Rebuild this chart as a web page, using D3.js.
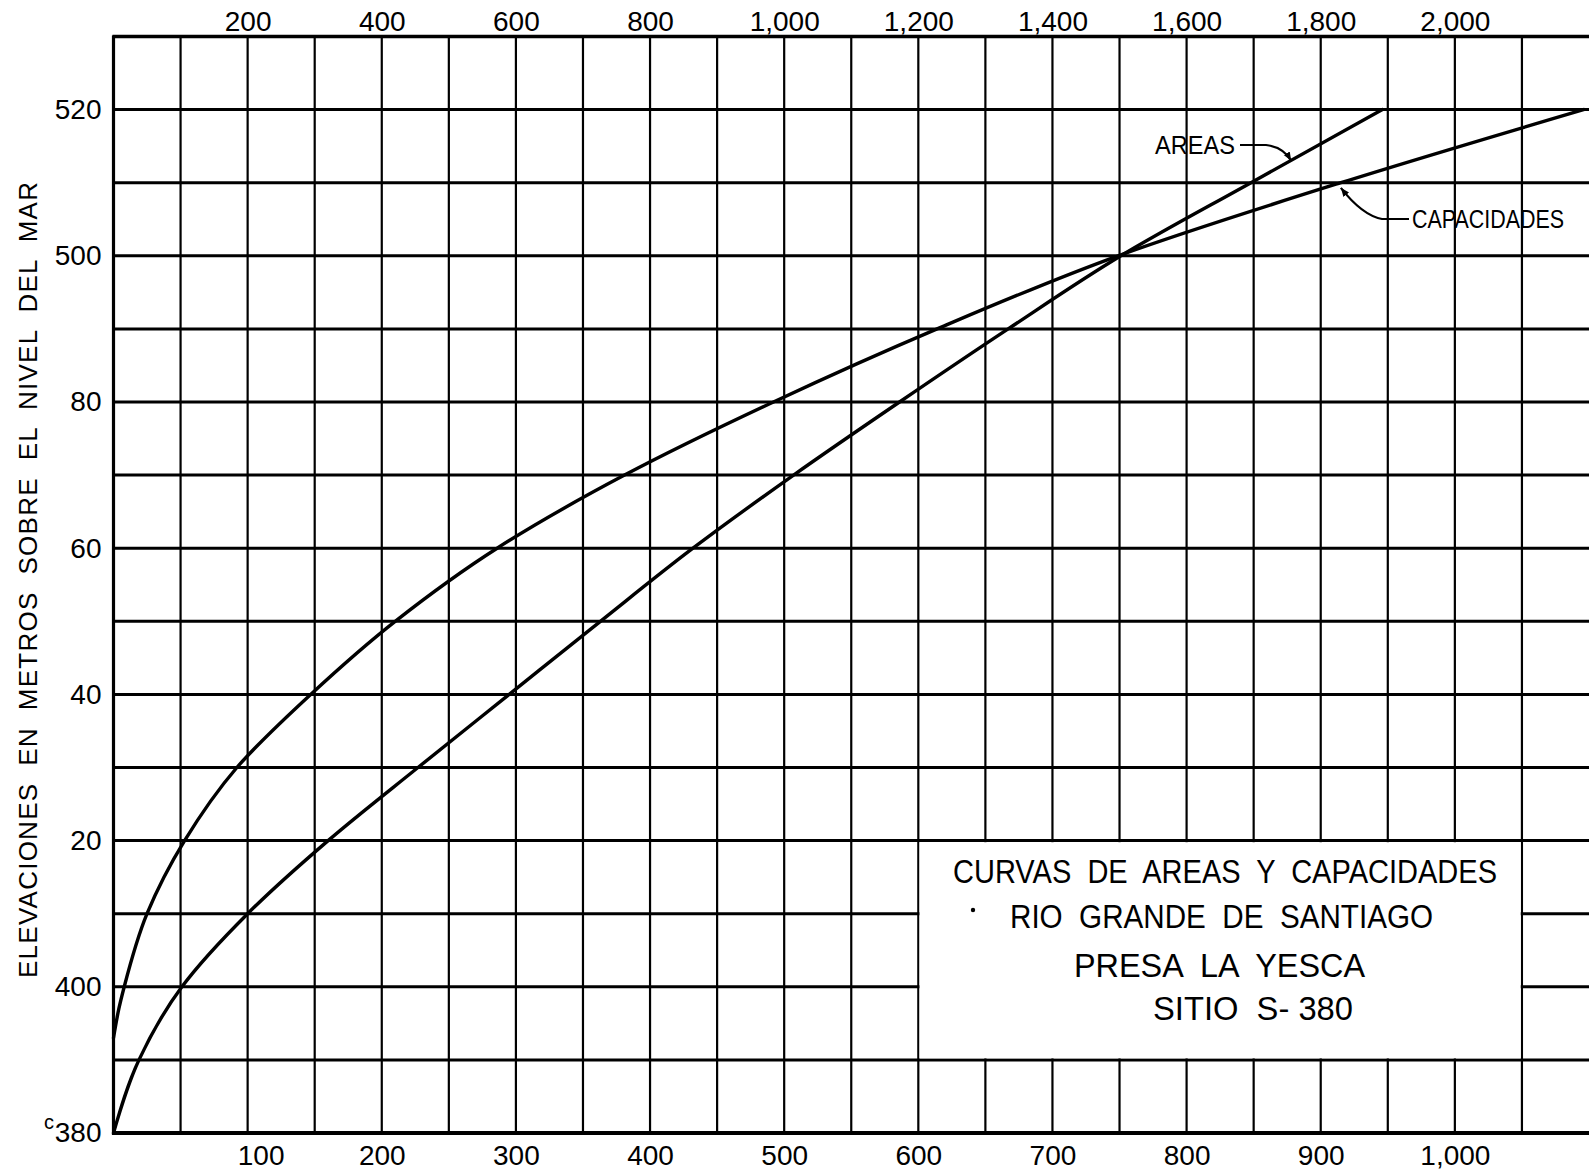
<!DOCTYPE html>
<html>
<head>
<meta charset="utf-8">
<script src="https://cdn.jsdelivr.net/npm/d3@7"></script>
<style>
    html, body { margin: 0; padding: 0; background: #fff; }
    svg { display: block; }
    text { font-family: 'Liberation Sans', Arial, sans-serif; fill: #000; white-space: pre; }
</style>
</head>
<body>
<svg id="chart" width="1589" height="1172"></svg>
<script>
// both curves are read against the lower scale (the upper scale is 2x)
const areasElev = [380, 390, 400, 410, 420, 430, 440, 450, 460, 470, 480, 490, 500, 510, 520];
const areas = [0, 19, 51, 100, 160, 227, 295, 363, 432, 507, 586, 667, 751, 848, 946];

const capElev = [393, 397, 400, 410, 420, 430, 440, 450, 460, 470, 480, 490, 500, 510, 520];
const capacidades = [0, 4, 8, 25, 53, 92, 147, 210, 286, 381, 492, 614, 749, 915, 1096];

const xTicksBottom = [100, 200, 300, 400, 500, 600, 700, 800, 900, 1000];
const xTicksTop = [200, 400, 600, 800, 1000, 1200, 1400, 1600, 1800, 2000];
const yTicks = [380, 400, 420, 440, 460, 480, 500, 520];
const yTickLabels = ['380', '400', '20', '40', '60', '80', '500', '520'];

const titleLines = ['CURVAS  DE  AREAS  Y  CAPACIDADES', 'RIO  GRANDE  DE  SANTIAGO', 'PRESA  LA  YESCA', 'SITIO  S- 380'];
const yTitle = 'ELEVACIONES  EN  METROS  SOBRE  EL  NIVEL  DEL  MAR';

const INK = '#000';
const svg = d3.select('#chart');

const x = d3.scaleLinear().domain([0, 1100]).range([113.5, 1589]);
const xTop = d3.scaleLinear().domain([0, 2200]).range(x.range());
const y = d3.scaleLinear().domain([380, 530]).range([1133, 36.5]);

// grid
const grid = svg.append('g').attr('class', 'grid').attr('stroke', INK);
grid.selectAll('.v')
    .data(d3.range(50, 1100, 50))
    .join('line')
    .attr('class', 'v')
    .attr('x1', d => x(d)).attr('x2', d => x(d))
    .attr('y1', y(530)).attr('y2', y(380))
    .attr('stroke-width', 2.2);
grid.selectAll('.h')
    .data(d3.range(390, 530, 10))
    .join('line')
    .attr('class', 'h')
    .attr('x1', x(0)).attr('x2', x(1100))
    .attr('y1', d => y(d)).attr('y2', d => y(d))
    .attr('stroke-width', 3);

// frame
grid.append('line')      // top
    .attr('x1', x(0) - 1).attr('x2', x(1100))
    .attr('y1', y(530)).attr('y2', y(530))
    .attr('stroke-width', 3.5);
grid.append('line')      // bottom
    .attr('x1', x(0) - 1).attr('x2', x(1100))
    .attr('y1', y(380)).attr('y2', y(380))
    .attr('stroke-width', 4);
grid.append('line')      // left
    .attr('x1', x(0)).attr('x2', x(0))
    .attr('y1', y(530) - 1).attr('y2', y(380) + 2)
    .attr('stroke-width', 3.2);

// axes
const fontAxis = g => g.attr('font-family', "'Liberation Sans', Arial, sans-serif")
    .attr('font-size', 28)
    .call(s => s.select('.domain').remove());

svg.append('g')
    .attr('class', 'x-axis-top')
    .attr('transform', `translate(0,${y(530)})`)
    .call(d3.axisTop(xTop).tickValues(xTicksTop).tickFormat(d3.format(',')).tickSize(0).tickPadding(6))
    .call(fontAxis);

svg.append('g')
    .attr('class', 'x-axis')
    .attr('transform', `translate(0,${y(380)})`)
    .call(d3.axisBottom(x).tickValues(xTicksBottom).tickFormat(d3.format(',')).tickSize(0).tickPadding(12))
    .call(fontAxis)
    .selectAll('.tick text')
    .attr('dx', d => d === 100 ? 13 : 0);   // the 100 is lettered a bit right of its line

svg.append('g')
    .attr('class', 'y-axis')
    .attr('transform', `translate(${x(0)},0)`)
    .call(d3.axisLeft(y).tickValues(yTicks).tickFormat((d, i) => yTickLabels[i]).tickSize(0).tickPadding(12))
    .call(fontAxis);

svg.append('text')       // stray mark next to 380
    .attr('x', 44).attr('y', y(380) - 4)
    .attr('font-size', 20)
    .text('c');

svg.append('text')
    .attr('transform', `translate(37,${580}) rotate(-90)`)
    .attr('text-anchor', 'middle')
    .attr('font-size', 26)
    .attr('textLength', 796)
    .attr('lengthAdjust', 'spacing')
    .text(yTitle);

// curves, ordered top-down so monotoneY gets increasing screen y
const line = d3.line()
    .x(d => x(d[0]))
    .y(d => y(d[1]))
    .curve(d3.curveMonotoneY);

const curves = svg.append('g').attr('class', 'curves')
    .attr('fill', 'none').attr('stroke', INK)
    .attr('stroke-width', 3.4).attr('stroke-linejoin', 'round').attr('stroke-linecap', 'round');
curves.append('path').attr('d', line(areas.map((v, i) => [v, areasElev[i]]).reverse()));
curves.append('path').attr('d', line(capacidades.map((v, i) => [v, capElev[i]]).reverse()));

// title box
const box = svg.append('g').attr('class', 'title-box');
box.append('rect')
    .attr('x', x(600) + 1.2).attr('y', y(420) + 1.6)
    .attr('width', x(1050) - x(600) - 2.4)
    .attr('height', y(390) - y(420) - 3.2)
    .attr('fill', '#fff');

const titlePos = [
    {x: 953, y: 883, w: 544},
    {x: 1010, y: 928, w: 423},
    {x: 1074, y: 977, w: 291},
    {x: 1153, y: 1020, w: 200}
];
box.selectAll('.title-line')
    .data(titleLines)
    .join('text')
    .attr('class', 'title-line')
    .attr('x', (d, i) => titlePos[i].x)
    .attr('y', (d, i) => titlePos[i].y)
    .attr('font-size', 33)
    .attr('textLength', (d, i) => titlePos[i].w)
    .attr('lengthAdjust', 'spacingAndGlyphs')
    .text(d => d);
box.append('circle').attr('cx', 973).attr('cy', 910).attr('r', 2.2).attr('fill', INK);

// labels with leaders
svg.append('defs').append('marker')
    .attr('id', 'tip')
    .attr('viewBox', '0 0 10 10')
    .attr('refX', 10).attr('refY', 5)
    .attr('markerWidth', 4).attr('markerHeight', 4)
    .attr('markerUnits', 'strokeWidth')
    .attr('orient', 'auto')
    .append('path')
    .attr('d', 'M0,1 L10,5 L0,9 Z')
    .attr('fill', INK);

const areasTip = [x(878), y(513)];
const capTip = [x(915), y(509.3)];

svg.append('text')
    .attr('x', 1155).attr('y', 154)
    .attr('font-size', 26)
    .attr('textLength', 80)
    .attr('lengthAdjust', 'spacingAndGlyphs')
    .text('AREAS');
svg.append('path')
    .attr('d', `M1240,145 L1266,145 Q1283,147 ${areasTip[0]},${areasTip[1]}`)
    .attr('fill', 'none').attr('stroke', INK).attr('stroke-width', 2.2)
    .attr('marker-end', 'url(#tip)');

svg.append('text')
    .attr('x', 1412).attr('y', 228)
    .attr('font-size', 25)
    .attr('textLength', 152)
    .attr('lengthAdjust', 'spacingAndGlyphs')
    .text('CAPACIDADES');
svg.append('path')
    .attr('d', `M1409,219 L1382,219 Q1362,215 ${capTip[0]},${capTip[1]}`)
    .attr('fill', 'none').attr('stroke', INK).attr('stroke-width', 2.2)
    .attr('marker-end', 'url(#tip)');
</script>
</body>
</html>
